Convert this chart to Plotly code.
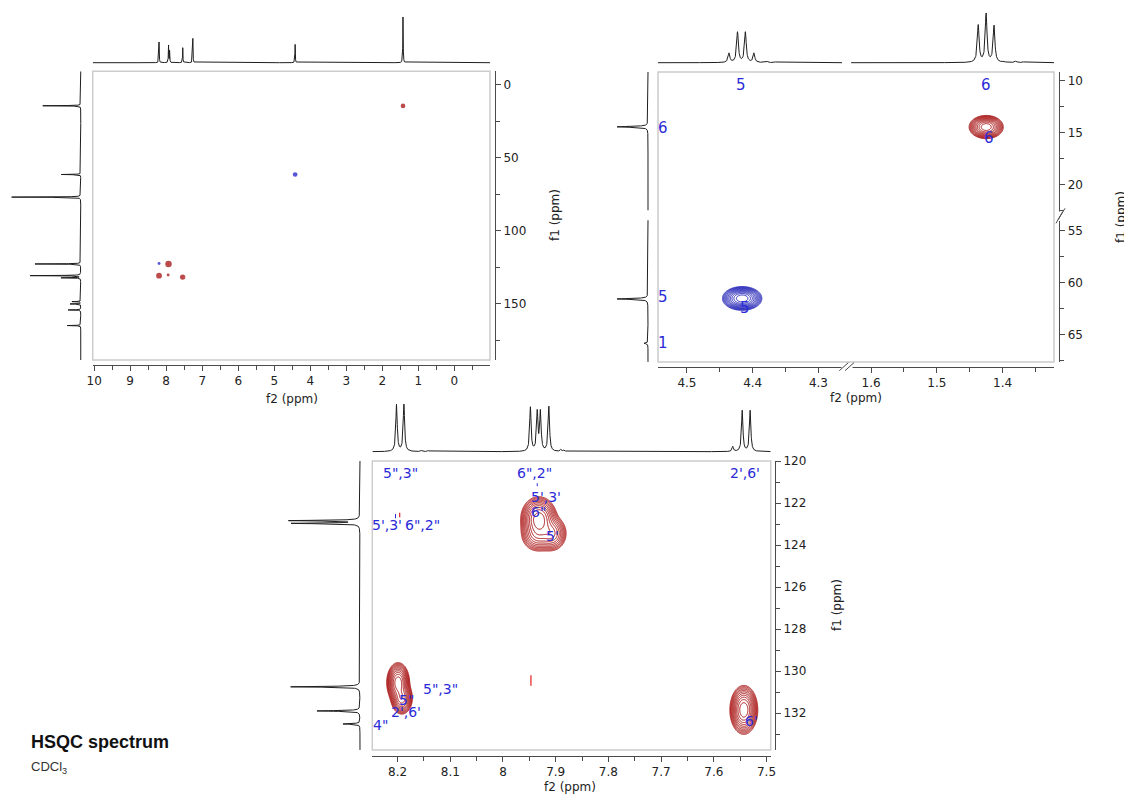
import numpy as np
import plotly.graph_objects as go

W, H = 1132, 797
OFF = 8                      # default page margin of the html body
FW, FH = W - OFF, H - OFF    # figure size so that it fits the window exactly

# ---------------- DATA ----------------
# Panel A : full HSQC (f2 = 1H, f1 = 13C)
A_H_PPM = [8.198, 7.935, 7.905, 7.540, 7.260, 4.420, 1.425]
A_H_INT = [20.7, 17.7, 12.0, 15.0, 24.3, 18.3, 47.0]
A_C_PPM = [14.4, 61.5, 77.0, 122.8, 130.8, 132.3, 148.6, 150.2, 154.3, 165.0]
A_C_INT = [39, 20, 71, 47, 52, 20, 9, 11, 13, 14]
A_XP_F2 = [1.425, 4.420, 7.935, 8.198, 7.543, 8.198, 7.945]
A_XP_F1 = [14.5, 61.5, 122.9, 130.8, 131.8, 122.5, 130.4]
A_XP_INT = [0.6, 0.6, 1.0, 0.85, 0.75, 0.2, 0.2]
A_XP_PHASE = [1, -1, 1, 1, 1, -1, 1]

# Panel B : aliphatic region (broken axes)
B_H_PPM_L = [4.436, 4.423, 4.411, 4.398, 4.378, 4.366]
B_H_INT_L = [9.3, 30.3, 30.3, 9.3, 1.0, 0.8]
B_H_PPM_R = [1.437, 1.425, 1.413, 1.398, 1.380, 1.369]
B_H_INT_R = [37.3, 48.7, 36.7, 1.0, 1.7, 0.7]
B_C_PPM = [14.45, 61.55, 65.8]
B_C_INT = [31, 31, 4]
B_XP_F2 = [1.425, 4.416]
B_XP_F1 = [14.47, 61.5]
B_XP_WF2 = [0.0098, 0.0113]
B_XP_WF1 = [0.42, 0.43]
B_XP_PHASE = [1, -1]
B_LAB_TEXT = ["5", "6", "6", "6", "5", "1", "5"]
B_LAB_F2 = [4.418, 1.425, 4.536, 1.421, 4.536, 4.536, 4.411]
B_LAB_F1 = [10.45, 10.45, 14.6, 15.5, 61.4, 65.8, 62.4]
B_LAB_SEG = [("x4", "y4"), ("x5", "y4"), ("x4", "y4"), ("x5", "y4"),
             ("x4", "y5"), ("x4", "y5"), ("x4", "y5")]

# Panel C : aromatic region
C_H_PPM = [8.202, 8.188, 8.155, 8.142, 7.948, 7.935, 7.929, 7.913, 7.890, 7.884, 7.564, 7.546, 7.531]
C_H_INT = [47, 47, 1.2, 1.2, 44, 39, 39, 45, 2.0, 1.5, 5, 41, 41]
C_C_PPM = [122.84, 122.97, 130.75, 131.90, 132.52]
C_C_INT = [70, 68, 70, 43, 17]
C_XP_CLUSTER = [0, 0, 0, 1, 1, 2]
C_XP_F2 = [7.932, 7.908, 7.935, 8.199, 8.192, 7.543]
C_XP_F1 = [122.75, 123.45, 123.50, 130.55, 131.30, 131.85]
C_XP_WF2 = [0.013, 0.012, 0.013, 0.0082, 0.008, 0.010]
C_XP_WF1 = [0.40, 0.35, 0.35, 0.36, 0.30, 0.44]
C_XP_AMP = [1.0, 0.45, 0.35, 1.0, 0.7, 1.0]
C_ART_F2 = [7.947, 8.196]
C_ART_F1A = [130.2, 122.46]
C_ART_F1B = [130.7, 122.68]
C_TICK_F2 = [8.204, 7.935]
C_TICK_F1A = [122.52, 121.06]
C_TICK_F1B = [122.73, 121.20]
C_LAB_TEXT = ['5",3"', '6",2"', "2',6'", "5',3'", '6"', "5'", "5',3'", '6",2"',
              '5",3"', '5"', "2',6'", '4"', "6'"]
C_LAB_F2 = [8.194, 7.941, 7.541, 7.918, 7.932, 7.906, 8.221, 8.152,
            8.118, 8.184, 8.184, 8.232, 7.528]
C_LAB_F1 = [120.57, 120.57, 120.57, 121.70, 122.41, 123.56, 123.05, 123.05,
            130.86, 131.38, 131.94, 132.57, 132.37]

# ---------------- helpers ----------------
RED = "#a80c0c"
BLUE = "#1c1cb8"
DOT_RED = "#a00000"
DOT_BLUE = "#1010c8"
LAB = "#2b2bd8"
INK = "#1e1e1e"
AX = "#4a4a4a"


def X(px):
    return (px - OFF) / FW


def Y(py):
    return 1 - (py - OFF) / FH


def lorentz(grid, pos, hts, hw):
    s = np.zeros_like(grid)
    for p, h in zip(pos, hts):
        s += h / (1 + ((grid - p) / hw) ** 2)
    return s


def gauss_cluster(f2, f1, w2, w1, amp, n=180):
    f2, f1, w2, w1, amp = map(np.asarray, (f2, f1, w2, w1, amp))
    xs = np.linspace((f2 - 4 * w2).min(), (f2 + 4 * w2).max(), n)
    ys = np.linspace((f1 - 4 * w1).min(), (f1 + 4 * w1).max(), n)
    XX, YY = np.meshgrid(xs, ys)
    Z = np.zeros_like(XX)
    for a, b, c, d, e in zip(f2, f1, w2, w1, amp):
        Z += e * np.exp(-0.5 * ((XX - a) / c) ** 2 - 0.5 * ((YY - b) / d) ** 2)
    # logarithmic intensity -> geometric contour levels (as in NMR software)
    return xs, ys, np.log(np.maximum(Z / Z.max(), 1e-12))


CONT = dict(start=-3.5, end=-0.3, size=0.32, coloring="lines")
TF = dict(family="DejaVu Sans", size=12, color="#222222")


def main_x(d0, d1, rng, pos, dtick, minor):
    return dict(domain=[X(d0), X(d1)], range=rng, anchor="free", position=Y(pos),
                showline=True, linecolor=AX, linewidth=1, ticks="outside", ticklen=5,
                tickcolor=AX, dtick=dtick, tick0=0, tickfont=TF, automargin=False,
                minor=dict(dtick=minor, tick0=0, ticks="outside", ticklen=4, tickcolor=AX,
                           showgrid=False),
                showgrid=False, zeroline=False, fixedrange=True)


def main_y(d0, d1, rng, pos, dtick, minor):
    return dict(domain=[Y(d1), Y(d0)], range=rng, anchor="free", position=X(pos), side="right",
                showline=True, linecolor=AX, linewidth=1, ticks="outside", ticklen=5,
                tickcolor=AX, dtick=dtick, tick0=0, tickfont=TF, automargin=False,
                minor=dict(dtick=minor, tick0=0, ticks="outside", ticklen=4, tickcolor=AX,
                           showgrid=False),
                showgrid=False, zeroline=False, fixedrange=True)


def hid_x(d0, d1, rng, anchor):
    return dict(domain=[X(d0), X(d1)], range=rng, anchor=anchor, visible=False,
                automargin=False, showgrid=False, zeroline=False, fixedrange=True)


def hid_y(d0, d1, rng, anchor):
    return dict(domain=[Y(d1), Y(d0)], range=rng, anchor=anchor, visible=False,
                automargin=False, showgrid=False, zeroline=False, fixedrange=True)


fig = go.Figure()
line_kw = dict(color=INK, width=1)

# ---------------- Panel A ----------------
A_XR = [10.04, -0.99]
A_YR = [188.6, -9.2]
g = np.arange(-0.99, 10.04, 0.002)
fig.add_trace(go.Scatter(x=g, y=lorentz(g, A_H_PPM, A_H_INT, 0.006), mode="lines",
                         line=line_kw, xaxis="x2", yaxis="y2", hoverinfo="skip"))
g = np.arange(-9.2, 188.6, 0.02)
fig.add_trace(go.Scatter(x=lorentz(g, A_C_PPM, A_C_INT, 0.12), y=g, mode="lines",
                         line=line_kw, xaxis="x3", yaxis="y", hoverinfo="skip"))
fig.add_trace(go.Scatter(x=A_XP_F2, y=A_XP_F1, mode="markers", xaxis="x", yaxis="y",
                         marker=dict(size=[2 + 4.5 * v for v in A_XP_INT],
                                     color=[DOT_RED if p > 0 else DOT_BLUE for p in A_XP_PHASE],
                                     line=dict(width=0)), hoverinfo="skip"))

# ---------------- Panel B ----------------
B_XR_L = [4.544, 4.257]
B_XR_R = [1.637, 1.322]
B_YR_T = [22.7, 9.2]
B_YR_B = [67.6, 53.3]
g = np.arange(4.264, 4.544, 0.0003)
fig.add_trace(go.Scatter(x=g, y=lorentz(g, B_H_PPM_L, B_H_INT_L, 0.0016), mode="lines",
                         line=line_kw, xaxis="x6", yaxis="y6", hoverinfo="skip"))
g = np.arange(1.322, 1.630, 0.0003)
fig.add_trace(go.Scatter(x=g, y=lorentz(g, B_H_PPM_R, B_H_INT_R, 0.0016), mode="lines",
                         line=line_kw, xaxis="x7", yaxis="y6", hoverinfo="skip"))
g = np.arange(9.2, 22.45, 0.01)
fig.add_trace(go.Scatter(x=lorentz(g, B_C_PPM, B_C_INT, 0.05), y=g, mode="lines",
                         line=line_kw, xaxis="x8", yaxis="y4", hoverinfo="skip"))
g = np.arange(54.0, 67.6, 0.01)
fig.add_trace(go.Scatter(x=lorentz(g, B_C_PPM, B_C_INT, 0.05), y=g, mode="lines",
                         line=line_kw, xaxis="x8", yaxis="y5", hoverinfo="skip"))
for i in range(len(B_XP_F2)):
    xs, ys, Z = gauss_cluster([B_XP_F2[i]], [B_XP_F1[i]], [B_XP_WF2[i]], [B_XP_WF1[i]], [1.0])
    col = RED if B_XP_PHASE[i] > 0 else BLUE
    xa = "x5" if B_XP_F2[i] < 3 else "x4"
    ya = "y4" if B_XP_F1[i] < 40 else "y5"
    fig.add_trace(go.Contour(x=xs, y=ys, z=Z, xaxis=xa, yaxis=ya, autocontour=False,
                             contours=CONT, colorscale=[[0, col], [1, col]], showscale=False,
                             line=dict(width=1), hoverinfo="skip"))

# ---------------- Panel C ----------------
C_XR = [8.248, 7.492]
C_YR = [133.76, 120.0]
g = np.arange(7.492, 8.248, 0.0003)
fig.add_trace(go.Scatter(x=g, y=lorentz(g, C_H_PPM, C_H_INT, 0.0016), mode="lines",
                         line=line_kw, xaxis="x10", yaxis="y10", hoverinfo="skip"))
g = np.arange(120.0, 133.76, 0.004)
fig.add_trace(go.Scatter(x=lorentz(g, C_C_PPM, C_C_INT, 0.02), y=g, mode="lines",
                         line=line_kw, xaxis="x11", yaxis="y9", hoverinfo="skip"))
for c in sorted(set(C_XP_CLUSTER)):
    idx = [i for i, k in enumerate(C_XP_CLUSTER) if k == c]
    xs, ys, Z = gauss_cluster([C_XP_F2[i] for i in idx], [C_XP_F1[i] for i in idx],
                              [C_XP_WF2[i] for i in idx], [C_XP_WF1[i] for i in idx],
                              [C_XP_AMP[i] for i in idx])
    fig.add_trace(go.Contour(x=xs, y=ys, z=Z, xaxis="x9", yaxis="y9", autocontour=False,
                             contours=CONT, colorscale=[[0, RED], [1, RED]], showscale=False,
                             line=dict(width=1), hoverinfo="skip"))
for i in range(len(C_ART_F2)):
    fig.add_trace(go.Scatter(x=[C_ART_F2[i], C_ART_F2[i]], y=[C_ART_F1A[i], C_ART_F1B[i]],
                             mode="lines", line=dict(color="#e02020", width=1.2),
                             xaxis="x9", yaxis="y9", hoverinfo="skip"))
for i in range(len(C_TICK_F2)):
    fig.add_trace(go.Scatter(x=[C_TICK_F2[i], C_TICK_F2[i]], y=[C_TICK_F1A[i], C_TICK_F1B[i]],
                             mode="lines", line=dict(color=LAB, width=1),
                             xaxis="x9", yaxis="y9", hoverinfo="skip"))

# ---------------- Layout / axes ----------------
layout = dict(
    template="none",
    width=FW, height=FH, margin=dict(l=0, r=0, t=0, b=0, pad=0), autosize=False,
    paper_bgcolor="white", plot_bgcolor="white", showlegend=False,
    font=dict(family="DejaVu Sans", size=12, color="#222222"),
    # panel A
    xaxis=main_x(92.7, 490, A_XR, 365, 1, 0.5),
    yaxis=main_y(71.3, 360, A_YR, 495, 50, 25),
    xaxis2=hid_x(92.7, 490, A_XR, "y2"),
    yaxis2=hid_y(12.7, 64.7, [-2, 50], "x2"),
    xaxis3=hid_x(9.0, 82.7, [73.7, -2], "y"),
    # panel B
    xaxis4=main_x(658, 846.7, B_XR_L, 366.7, 0.1, 0.05),
    xaxis5=main_x(846.7, 1054, B_XR_R, 366.7, 0.1, 0.05),
    yaxis4=main_y(72, 213, B_YR_T, 1059.3, 5, 2.5),
    yaxis5=main_y(213, 362, B_YR_B, 1059.3, 5, 2.5),
    xaxis6=hid_x(658, 842, [4.544, 4.264], "y6"),
    xaxis7=hid_x(851, 1054, [1.630, 1.322], "y6"),
    yaxis6=hid_y(12.7, 64.7, [-2, 50], "x6"),
    xaxis8=hid_x(612, 650, [36, -2], "y4"),
    # panel C
    xaxis9=main_x(372.3, 770.7, C_XR, 755.7, 0.1, 0.05),
    yaxis9=main_y(461, 750, C_YR, 775, 2, 1),
    xaxis10=hid_x(372.3, 770.7, C_XR, "y10"),
    yaxis10=hid_y(401.7, 453.7, [-2, 50], "x10"),
    xaxis11=hid_x(285, 362, [75, -2], "y9"),
)
fig.update_layout(**layout)

# ---------------- shapes ----------------
shapes = []
BOX = dict(color="#cccccc", width=1.5)
for (x0, x1, y0, y1) in [(92.7, 490, 71.3, 360), (658, 1054, 72, 362), (372.3, 770.7, 461, 750)]:
    shapes.append(dict(type="rect", xref="paper", yref="paper", x0=X(x0), x1=X(x1),
                       y0=Y(y1), y1=Y(y0), line=BOX, fillcolor="rgba(0,0,0,0)", layer="above"))
# axis breaks
shapes.append(dict(type="rect", xref="paper", yref="paper", x0=X(841.5), x1=X(852.5),
                   y0=Y(369), y1=Y(364.5), line=dict(width=0), fillcolor="white", layer="above"))
shapes.append(dict(type="rect", xref="paper", yref="paper", x0=X(1057), x1=X(1062),
                   y0=Y(221), y1=Y(211.5), line=dict(width=0), fillcolor="white", layer="above"))
for (xa, ya, xb, yb) in [(839.3, 370.7, 848.3, 362.7), (845.0, 370.7, 854.0, 362.7),
                         (1056.0, 223.3, 1062.7, 211.7), (1058.3, 219.3, 1065.0, 208.3)]:
    shapes.append(dict(type="line", xref="paper", yref="paper", x0=X(xa), y0=Y(ya),
                       x1=X(xb), y1=Y(yb), line=dict(color=AX, width=1), layer="above"))
fig.update_layout(shapes=shapes)

# ---------------- annotations ----------------
ann = []
LF2 = dict(family="DejaVu Sans", size=15, color=LAB)
LF3 = dict(family="DejaVu Sans", size=14, color=LAB)
for t, f2, f1, (xa, ya) in zip(B_LAB_TEXT, B_LAB_F2, B_LAB_F1, B_LAB_SEG):
    ann.append(dict(text=t, x=f2, y=f1, xref=xa, yref=ya, showarrow=False, font=LF2))
for t, f2, f1 in zip(C_LAB_TEXT, C_LAB_F2, C_LAB_F1):
    ann.append(dict(text=t, x=f2, y=f1, xref="x9", yref="y9", showarrow=False, font=LF3))

TT = dict(family="DejaVu Sans", size=12, color="#222222")
for (t, x, y, ang) in [("f2 (ppm)", 292, 399, 0), ("f1 (ppm)", 555, 215, -90),
                       ("f2 (ppm)", 856, 398, 0), ("f1 (ppm)", 1121, 217, -90),
                       ("f2 (ppm)", 570, 787, 0), ("f1 (ppm)", 837, 605, -90)]:
    ann.append(dict(text=t, x=X(x), y=Y(y), xref="paper", yref="paper", showarrow=False,
                    font=TT, textangle=ang, xanchor="center", yanchor="middle"))

ann.append(dict(text="<b>HSQC spectrum</b>", x=X(29), y=Y(742), xref="paper", yref="paper",
                showarrow=False, xanchor="left", yanchor="middle",
                font=dict(family="Liberation Sans", size=18, color="#111111")))
ann.append(dict(text="CDCl<sub>3</sub>", x=X(29), y=Y(767), xref="paper", yref="paper",
                showarrow=False, xanchor="left", yanchor="middle",
                font=dict(family="Liberation Sans", size=13, color="#333333")))
fig.update_layout(annotations=ann)

fig.write_html("out.html")
